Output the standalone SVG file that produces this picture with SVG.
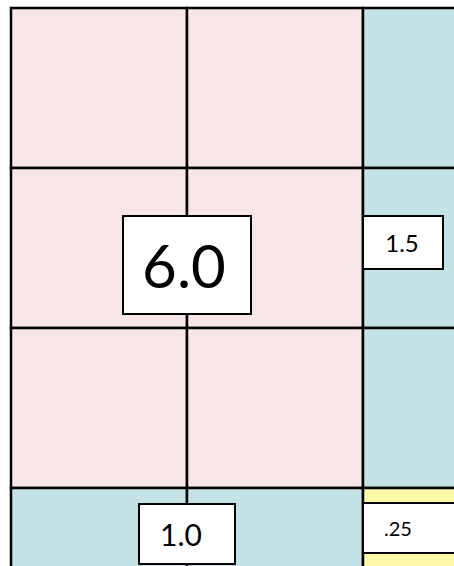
<svg xmlns="http://www.w3.org/2000/svg" width="454" height="566" viewBox="0 0 454 566">
<style>
.cell{stroke:#000;stroke-width:2.5}
.pink{fill:#f9e6e8}
.cyan{fill:#c5e3e6}
.yellow{fill:#fdf9a8}
.box{fill:#fff;stroke:#000;stroke-width:2}
.lbl{font-family:Lato,"Open Sans","DejaVu Sans",sans-serif;fill:#000;text-anchor:middle}
</style>
<rect width="454" height="566" fill="#fff"/>
<g id="grid">
<rect id="c00" class="cell pink" x="11" y="8" width="176" height="160"/>
<rect id="c01" class="cell pink" x="187" y="8" width="176" height="160"/>
<rect id="c02" class="cell cyan" x="363" y="8" width="176" height="160"/>
<rect id="c10" class="cell pink" x="11" y="168" width="176" height="160"/>
<rect id="c11" class="cell pink" x="187" y="168" width="176" height="160"/>
<rect id="c12" class="cell cyan" x="363" y="168" width="176" height="160"/>
<rect id="c20" class="cell pink" x="11" y="328" width="176" height="160"/>
<rect id="c21" class="cell pink" x="187" y="328" width="176" height="160"/>
<rect id="c22" class="cell cyan" x="363" y="328" width="176" height="160"/>
<rect id="c30" class="cell cyan" x="11" y="488" width="176" height="160"/>
<rect id="c31" class="cell cyan" x="187" y="488" width="176" height="160"/>
<rect id="c32" class="cell yellow" x="363" y="488" width="176" height="160"/>
</g>
<g id="label-6-0">
<rect class="box" x="123" y="216" width="128" height="98"/>
<text class="lbl" x="184" y="288" font-size="60">6.0</text>
</g>
<g id="label-1-5">
<rect class="box" x="363" y="216" width="80" height="53"/>
<text class="lbl" x="402" y="252" font-size="24">1.5</text>
</g>
<g id="label-1-0">
<rect class="box" x="139" y="504" width="96" height="60"/>
<text class="lbl" x="181" y="546" font-size="30">1.0</text>
</g>
<g id="label-025">
<rect class="box" x="363" y="503" width="100" height="50"/>
<text class="lbl" x="398" y="536" font-size="20">.25</text>
</g>
</svg>
